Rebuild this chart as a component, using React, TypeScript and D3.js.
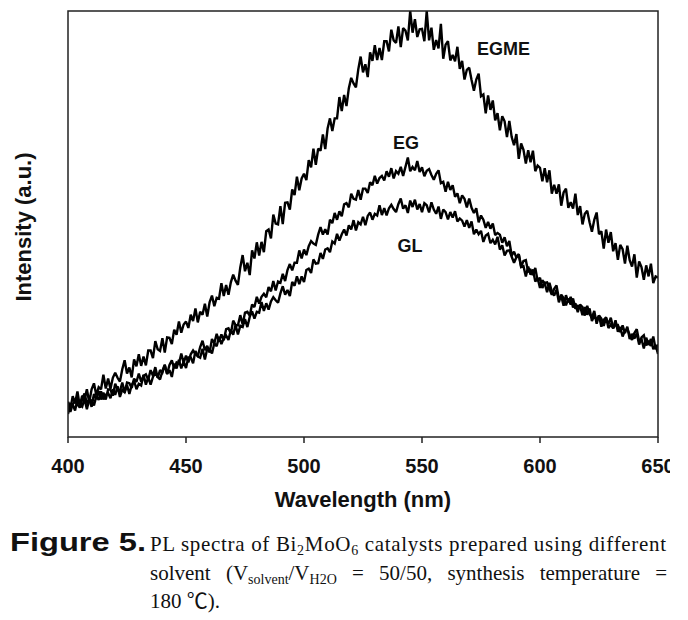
import React from "react";
import * as d3 from "d3";

// Wavelength grid (nm), 1 nm step
const wavelengths: number[] = d3.range(400, 651, 1);
const xTicks = [400, 450, 500, 550, 600, 650];

// PL intensity (a.u.), 400..650 nm
const egme: number[] = [
  83, 66, 96, 79, 107, 73, 97, 88, 112, 81,
  112, 126, 98, 117, 112, 146, 114, 137, 113, 139,
  151, 139, 130, 159, 180, 149, 163, 140, 182, 166,
  194, 167, 189, 168, 203, 203, 185, 225, 206, 202,
  232, 198, 234, 233, 218, 252, 240, 271, 245, 264,
  271, 256, 287, 272, 302, 269, 294, 287, 313, 283,
  316, 332, 307, 327, 325, 361, 331, 357, 334, 363,
  381, 367, 357, 398, 427, 389, 409, 380, 438, 419,
  457, 426, 458, 434, 483, 487, 466, 522, 501, 499,
  542, 500, 550, 551, 534, 581, 568, 611, 579, 607,
  618, 603, 650, 633, 677, 639, 677, 672, 710, 676,
  724, 748, 718, 748, 748, 798, 765, 803, 777, 819,
  843, 830, 821, 863, 893, 856, 875, 845, 903, 883,
  920, 885, 913, 885, 929, 929, 905, 956, 931, 925,
  964, 915, 960, 954, 931, 1000, 949, 981, 939, 957,
  958, 929, 1000, 931, 961, 909, 932, 912, 970, 888,
  921, 929, 884, 897, 882, 916, 864, 883, 839, 862,
  867, 838, 813, 839, 853, 800, 804, 760, 802, 768,
  790, 743, 760, 720, 753, 741, 704, 742, 704, 685,
  711, 653, 689, 674, 642, 673, 645, 672, 624, 637,
  632, 600, 631, 598, 626, 571, 592, 571, 593, 543,
  574, 583, 538, 551, 536, 571, 521, 542, 499, 524,
  531, 504, 482, 510, 527, 476, 483, 442, 487, 456,
  481, 436, 455, 416, 451, 441, 407, 449, 415, 400,
  429, 374, 412, 399, 369, 403, 377, 407, 361, 377, 374,
];

const eg: number[] = [
  76, 59, 77, 85, 76, 69, 88, 102, 79, 88,
  71, 101, 89, 108, 88, 104, 88, 112, 111, 97,
  125, 111, 108, 128, 104, 128, 126, 115, 137, 129,
  149, 130, 143, 147, 135, 157, 144, 164, 139, 157,
  151, 168, 148, 169, 180, 161, 175, 172, 196, 174,
  191, 175, 194, 203, 195, 190, 211, 226, 204, 214,
  198, 230, 220, 242, 224, 241, 227, 253, 255, 243,
  273, 263, 262, 286, 264, 292, 294, 285, 311, 305,
  329, 313, 329, 336, 328, 352, 342, 366, 344, 365,
  362, 383, 366, 392, 406, 391, 409, 409, 438, 419,
  440, 427, 448, 460, 454, 451, 475, 493, 475, 488,
  475, 510, 502, 526, 510, 530, 518, 546, 549, 539,
  571, 559, 557, 580, 557, 583, 583, 573, 598, 591,
  613, 595, 608, 613, 602, 624, 611, 631, 607, 624,
  618, 634, 613, 634, 656, 624, 634, 626, 648, 622,
  633, 612, 625, 629, 615, 604, 618, 626, 596, 599,
  576, 599, 580, 591, 564, 572, 549, 567, 559, 539,
  560, 538, 526, 537, 504, 520, 510, 491, 505, 489,
  501, 474, 479, 475, 456, 469, 448, 460, 426, 435,
  421, 429, 400, 413, 415, 387, 392, 380, 397, 366,
  374, 350, 362, 363, 348, 334, 348, 356, 324, 331,
  308, 333, 316, 329, 304, 314, 293, 311, 305, 285,
  308, 289, 280, 296, 266, 285, 278, 261, 279, 265,
  280, 256, 263, 263, 246, 262, 244, 259, 230, 242,
  231, 243, 217, 234, 239, 215, 223, 214, 236, 206, 217,
];

const gl: number[] = [
  54, 78, 76, 62, 89, 75, 71, 90, 65, 88,
  86, 74, 96, 87, 107, 88, 99, 103, 91, 112,
  99, 119, 94, 111, 105, 122, 101, 122, 132, 112,
  125, 121, 146, 123, 140, 123, 141, 150, 141, 135,
  155, 170, 148, 157, 141, 172, 161, 181, 161, 177,
  162, 187, 187, 173, 202, 189, 186, 207, 182, 207,
  206, 196, 220, 213, 235, 218, 232, 238, 228, 251,
  240, 263, 241, 261, 258, 277, 258, 282, 295, 278,
  294, 292, 317, 296, 314, 299, 318, 328, 321, 315,
  337, 354, 334, 345, 331, 364, 355, 377, 359, 377,
  364, 392, 395, 385, 417, 407, 408, 432, 418, 440,
  443, 434, 459, 454, 477, 461, 476, 487, 473, 497,
  487, 509, 485, 504, 499, 517, 497, 519, 527, 510,
  524, 520, 544, 521, 537, 520, 537, 545, 535, 528,
  547, 560, 536, 544, 526, 555, 540, 557, 534, 547,
  528, 549, 544, 527, 551, 534, 524, 541, 512, 534,
  528, 511, 528, 515, 530, 506, 513, 508, 494, 509,
  491, 506, 476, 487, 476, 484, 458, 473, 477, 455,
  463, 452, 470, 440, 450, 426, 437, 438, 423, 409,
  422, 429, 399, 401, 377, 400, 381, 393, 365, 373,
  350, 368, 361, 340, 362, 342, 332, 346, 316, 334,
  326, 309, 325, 311, 325, 301, 308, 307, 286, 305,
  287, 302, 272, 285, 274, 285, 259, 275, 281, 256,
  264, 255, 274, 247, 258, 236, 250, 253, 240, 228,
  244, 253, 225, 230, 208, 233, 216, 230, 206, 216, 195,
];

const seriesNames = ["EGME", "EG", "GL"];
const seriesValues = [egme, eg, gl];
// label anchors in data units (nm, a.u.)
const labelNm = [584.5, 543.2, 544.9];
const labelVal = [897, 676, 434];

const W = 688;
const H = 620;
const left = 68, right = 658, top = 11, bottom = 437;

export default function App() {
  const x = d3.scaleLinear().domain([400, 650]).range([left, right]);
  const y = d3.scaleLinear().domain([0, 1000]).range([bottom, top]);
  const line = d3
    .line<number>()
    .x((_, i) => x(wavelengths[i]))
    .y((d) => y(d));

  const sans = "'Liberation Sans', Arial, sans-serif";
  const serif = "'Liberation Serif', 'Times New Roman', serif";

  return (
    <div style={{ position: "absolute", left: 0, top: 0 }}>
      <svg width={W} height={H} style={{ display: "block", background: "#fff" }}>
        <defs>
          <clipPath id="plotClip">
            <rect x={left} y={top} width={right - left} height={bottom - top} />
          </clipPath>
          <clipPath id="edgeClip">
            <rect x={0} y={0} width={670} height={H} />
          </clipPath>
        </defs>

        {/* data */}
        <g clipPath="url(#plotClip)">
          {seriesValues.map((vals, k) => (
            <path
              key={seriesNames[k]}
              d={line(vals) || ""}
              fill="none"
              stroke="#000"
              strokeWidth={2.4}
              strokeLinejoin="miter"
              strokeMiterlimit={2}
            />
          ))}
        </g>

        {/* frame */}
        <rect
          x={left}
          y={top}
          width={right - left}
          height={bottom - top}
          fill="none"
          stroke="#222"
          strokeWidth={1.5}
        />

        {/* x ticks */}
        <g clipPath="url(#edgeClip)">
          {xTicks.map((t) => (
            <g key={t}>
              <line x1={x(t)} x2={x(t)} y1={bottom} y2={bottom + 6} stroke="#222" strokeWidth={1.5} />
              <text
                x={x(t)}
                y={473}
                textAnchor="middle"
                fontFamily={sans}
                fontWeight="bold"
                fontSize={20}
                fill="#111"
              >
                {t}
              </text>
            </g>
          ))}
        </g>

        {/* axis titles */}
        <text
          x={(left + right) / 2}
          y={507}
          textAnchor="middle"
          fontFamily={sans}
          fontWeight="bold"
          fontSize={22}
          fill="#111"
        >
          Wavelength (nm)
        </text>
        <text
          transform={`translate(31, 227) rotate(-90)`}
          textAnchor="middle"
          fontFamily={sans}
          fontWeight="bold"
          fontSize={22}
          fill="#111"
        >
          Intensity (a.u.)
        </text>

        {/* series labels */}
        {seriesNames.map((n, k) => (
          <text
            key={n}
            x={x(labelNm[k])}
            y={y(labelVal[k])}
            textAnchor="middle"
            fontFamily={sans}
            fontWeight="bold"
            fontSize={18}
            fill="#111"
          >
            {n}
          </text>
        ))}

        {/* caption */}
        <text x={10} y={551} fontFamily={sans} fontWeight="bold" fontSize={25} fill="#111" textLength={136} lengthAdjust="spacingAndGlyphs">
          Figure 5.
        </text>
        <text x={150} y={551} fontFamily={serif} fontSize={21} fill="#111" textLength={516} lengthAdjust="spacing">
          PL spectra of Bi
          <tspan fontSize={14} dy={4}>2</tspan>
          <tspan dy={-4}>MoO</tspan>
          <tspan fontSize={14} dy={4}>6</tspan>
          <tspan dy={-4}> catalysts prepared using different</tspan>
        </text>
        <text x={150} y={580} fontFamily={serif} fontSize={21} fill="#111" style={{ wordSpacing: "10px" }}>
          solvent (V
          <tspan fontSize={14} dy={4}>solvent</tspan>
          <tspan dy={-4}>/V</tspan>
          <tspan fontSize={14} dy={4}>H2O</tspan>
          <tspan dy={-4}> = 50/50, synthesis temperature =</tspan>
        </text>
        <text x={150} y={608} fontFamily={serif} fontSize={21} fill="#111">
          180 <tspan fontFamily="'Noto Sans CJK KR', serif">℃</tspan>).
        </text>
      </svg>
    </div>
  );
}
